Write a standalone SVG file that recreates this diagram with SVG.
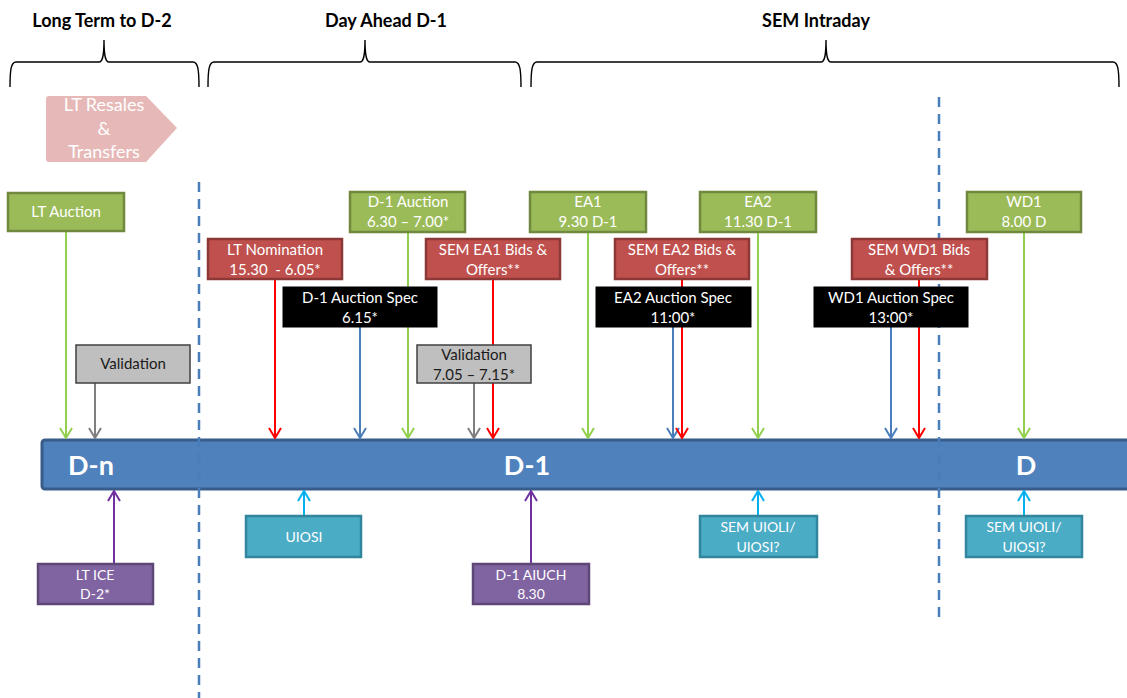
<svg xmlns="http://www.w3.org/2000/svg" width="1127" height="698" viewBox="0 0 1127 698">
<style>
text{font-family:Lato,"Open Sans","Liberation Sans",sans-serif;text-anchor:middle}
.hdr{font-size:18px;font-weight:bold;fill:#000}
.t{font-size:15px;fill:#fff}
.tk{font-size:15px;fill:#1a1a1a}
.ts{font-size:14px;fill:#fff}
.bar{font-size:27px;font-weight:bold;fill:#fff}
.green{fill:#9BBB59;stroke:#71893F;stroke-width:2.5}
.red{fill:#C0504D;stroke:#8C3836;stroke-width:2.5}
.black{fill:#000;stroke:#000;stroke-width:1}
.grey{fill:#BFBFBF;stroke:#404040;stroke-width:1.5}
.purple{fill:#8064A2;stroke:#5C4776;stroke-width:2.5}
.teal{fill:#4BACC6;stroke:#31859C;stroke-width:2.5}
.brace{fill:none;stroke:#000;stroke-width:1.4}
.dash{stroke:#4A7EBB;stroke-width:2.5;stroke-dasharray:10 7;fill:none}
.c{fill:none;stroke-width:2}
</style>
<defs>
<marker id="ag" viewBox="-11 -7 12 14" refX="0" refY="0" markerWidth="12" markerHeight="14" markerUnits="userSpaceOnUse" orient="auto"><path d="M-10,-6 L0,0 L-10,6" fill="none" stroke="#92D050" stroke-width="2"/></marker>
<marker id="ak" viewBox="-11 -7 12 14" refX="0" refY="0" markerWidth="12" markerHeight="14" markerUnits="userSpaceOnUse" orient="auto"><path d="M-10,-6 L0,0 L-10,6" fill="none" stroke="#7F7F7F" stroke-width="2"/></marker>
<marker id="ar" viewBox="-11 -7 12 14" refX="0" refY="0" markerWidth="12" markerHeight="14" markerUnits="userSpaceOnUse" orient="auto"><path d="M-10,-6 L0,0 L-10,6" fill="none" stroke="#FF0000" stroke-width="2"/></marker>
<marker id="ab" viewBox="-11 -7 12 14" refX="0" refY="0" markerWidth="12" markerHeight="14" markerUnits="userSpaceOnUse" orient="auto"><path d="M-10,-6 L0,0 L-10,6" fill="none" stroke="#4A7EBB" stroke-width="2"/></marker>
<marker id="ap" viewBox="-11 -7 12 14" refX="0" refY="0" markerWidth="12" markerHeight="14" markerUnits="userSpaceOnUse" orient="auto"><path d="M-10,-6 L0,0 L-10,6" fill="none" stroke="#7030A0" stroke-width="2"/></marker>
<marker id="ac" viewBox="-11 -7 12 14" refX="0" refY="0" markerWidth="12" markerHeight="14" markerUnits="userSpaceOnUse" orient="auto"><path d="M-10,-6 L0,0 L-10,6" fill="none" stroke="#00B0F0" stroke-width="2"/></marker>
</defs>
<rect width="1127" height="698" fill="#fff"/>

<g id="headers">
<text class="hdr" x="102" y="27">Long Term to D-2</text>
<text class="hdr" x="386" y="27">Day Ahead D-1</text>
<text class="hdr" x="816" y="27">SEM Intraday</text>
<path class="brace" d="M10,87 C10,70 11,62 16,62 L99,62 C102,62 104,58 104,40 C104,58 106,62 109,62 L193,62 C198,62 199,70 199,87"/>
<path class="brace" d="M208,87 C208,70 209,62 214,62 L360,62 C363,62 365,58 365,40 C365,58 367,62 370,62 L515,62 C520,62 521,70 521,87"/>
<path class="brace" d="M531,87 C531,70 532,62 537,62 L821,62 C824,62 826,58 826,40 C826,58 828,62 831,62 L1113,62 C1118,62 1119,70 1119,87"/>
</g>

<g id="lt-resales">
<path d="M49,96 L146,96 L177,128 L146,162 L49,162 Q46,162 46,159 L46,99 Q46,96 49,96 Z" fill="#E6B9B8"/>
<text x="104" y="111" style="font-size:18px;fill:#fff">LT Resales</text>
<text x="104" y="135" style="font-size:18px;fill:#fff">&amp;</text>
<text x="104" y="158" style="font-size:18px;fill:#fff">Transfers</text>
</g>

<g id="timeline-bar">
<rect x="42" y="440" width="1100" height="49" rx="3" fill="#4F81BD" stroke="#385D8A" stroke-width="3"/>
<text class="bar" x="91" y="475">D-n</text>
<text class="bar" x="527" y="475">D-1</text>
<text class="bar" x="1026" y="475">D</text>
</g>

<g id="dividers">
<line class="dash" x1="199" y1="182" x2="199" y2="698"/>
<line class="dash" x1="939" y1="97" x2="939" y2="620"/>
</g>

<g id="connectors">
<line class="c" x1="66" y1="231" x2="66" y2="438" stroke="#92D050" marker-end="url(#ag)"/>
<line class="c" x1="95" y1="383" x2="95" y2="438" stroke="#7F7F7F" marker-end="url(#ak)"/>
<line class="c" x1="275" y1="279" x2="275" y2="438" stroke="#FF0000" marker-end="url(#ar)"/>
<line class="c" x1="360" y1="327" x2="360" y2="438" stroke="#4A7EBB" marker-end="url(#ab)"/>
<line class="c" x1="408" y1="232" x2="408" y2="438" stroke="#92D050" marker-end="url(#ag)"/>
<line class="c" x1="474" y1="383" x2="474" y2="438" stroke="#7F7F7F" marker-end="url(#ak)"/>
<line class="c" x1="493" y1="279" x2="493" y2="438" stroke="#FF0000" marker-end="url(#ar)"/>
<line class="c" x1="588" y1="232" x2="588" y2="438" stroke="#92D050" marker-end="url(#ag)"/>
<line class="c" x1="673" y1="327" x2="673" y2="438" stroke="#4A7EBB" marker-end="url(#ab)"/>
<line class="c" x1="682" y1="279" x2="682" y2="438" stroke="#FF0000" marker-end="url(#ar)"/>
<line class="c" x1="758" y1="232" x2="758" y2="438" stroke="#92D050" marker-end="url(#ag)"/>
<line class="c" x1="891" y1="327" x2="891" y2="438" stroke="#4A7EBB" marker-end="url(#ab)"/>
<line class="c" x1="919" y1="279" x2="919" y2="438" stroke="#FF0000" marker-end="url(#ar)"/>
<line class="c" x1="1024" y1="232" x2="1024" y2="438" stroke="#92D050" marker-end="url(#ag)"/>
<line class="c" x1="114" y1="564" x2="114" y2="491" stroke="#7030A0" marker-end="url(#ap)"/>
<line class="c" x1="304" y1="516" x2="304" y2="491" stroke="#00B0F0" marker-end="url(#ac)"/>
<line class="c" x1="531" y1="564" x2="531" y2="491" stroke="#7030A0" marker-end="url(#ap)"/>
<line class="c" x1="758" y1="516" x2="758" y2="491" stroke="#00B0F0" marker-end="url(#ac)"/>
<line class="c" x1="1024" y1="516" x2="1024" y2="491" stroke="#00B0F0" marker-end="url(#ac)"/>
</g>

<g id="lt-auction"><rect class="green" x="8" y="193" width="116" height="38"/><text class="t" x="66" y="217">LT Auction</text></g>
<g id="d1-auction"><rect class="green" x="350" y="192" width="115" height="40"/><text class="t" x="408" y="207">D-1 Auction</text><text class="t" x="408" y="227">6.30 – 7.00*</text></g>
<g id="ea1"><rect class="green" x="530" y="192" width="116" height="40"/><text class="t" x="588" y="207">EA1</text><text class="t" x="588" y="227">9.30 D-1</text></g>
<g id="ea2"><rect class="green" x="700" y="192" width="116" height="40"/><text class="t" x="758" y="207">EA2</text><text class="t" x="758" y="227">11.30 D-1</text></g>
<g id="wd1"><rect class="green" x="967" y="192" width="114" height="40"/><text class="t" x="1024" y="207">WD1</text><text class="t" x="1024" y="227">8.00 D</text></g>

<g id="lt-nomination"><rect class="red" x="208" y="239" width="134" height="40"/><text class="t" x="275" y="255">LT Nomination</text><text class="t" x="275" y="275" xml:space="preserve">15.30  - 6.05*</text></g>
<g id="sem-ea1-bids"><rect class="red" x="426" y="239" width="134" height="40"/><text class="t" x="493" y="255">SEM EA1 Bids &amp;</text><text class="t" x="493" y="275">Offers**</text></g>
<g id="sem-ea2-bids"><rect class="red" x="615" y="239" width="134" height="40"/><text class="t" x="682" y="255">SEM EA2 Bids &amp;</text><text class="t" x="682" y="275">Offers**</text></g>
<g id="sem-wd1-bids"><rect class="red" x="852" y="239" width="135" height="40"/><text class="t" x="919" y="255">SEM WD1 Bids</text><text class="t" x="919" y="275">&amp; Offers**</text></g>

<g id="d1-auction-spec"><rect class="black" x="283" y="287" width="154" height="40"/><text class="t" x="360" y="303">D-1 Auction Spec</text><text class="t" x="360" y="323">6.15*</text></g>
<g id="ea2-auction-spec"><rect class="black" x="596" y="287" width="155" height="40"/><text class="t" x="673" y="303">EA2 Auction Spec</text><text class="t" x="673" y="323">11:00*</text></g>
<g id="wd1-auction-spec"><rect class="black" x="814" y="287" width="154" height="40"/><text class="t" x="891" y="303">WD1 Auction Spec</text><text class="t" x="891" y="323">13:00*</text></g>

<g id="validation-lt"><rect class="grey" x="76" y="345" width="114" height="38"/><text class="tk" x="133" y="369">Validation</text></g>
<g id="validation-d1"><rect class="grey" x="417" y="345" width="114" height="38"/><text class="tk" x="474" y="360">Validation</text><text class="tk" x="474" y="380">7.05 – 7.15*</text></g>

<g id="lt-ice"><rect class="purple" x="38" y="564" width="115" height="40"/><text class="ts" x="95" y="580">LT ICE</text><text class="ts" x="95" y="599">D-2*</text></g>
<g id="d1-aiuch"><rect class="purple" x="473" y="564" width="116" height="40"/><text class="ts" x="531" y="580">D-1 AIUCH</text><text class="ts" x="531" y="599">8.30</text></g>
<g id="uiosi"><rect class="teal" x="246" y="516" width="115" height="41"/><text class="ts" x="304" y="542">UIOSI</text></g>
<g id="sem-uioli-d1"><rect class="teal" x="700" y="516" width="117" height="41"/><text class="ts" x="758" y="532">SEM UIOLI/</text><text class="ts" x="758" y="552">UIOSI?</text></g>
<g id="sem-uioli-d"><rect class="teal" x="966" y="516" width="116" height="41"/><text class="ts" x="1024" y="532">SEM UIOLI/</text><text class="ts" x="1024" y="552">UIOSI?</text></g>
</svg>
